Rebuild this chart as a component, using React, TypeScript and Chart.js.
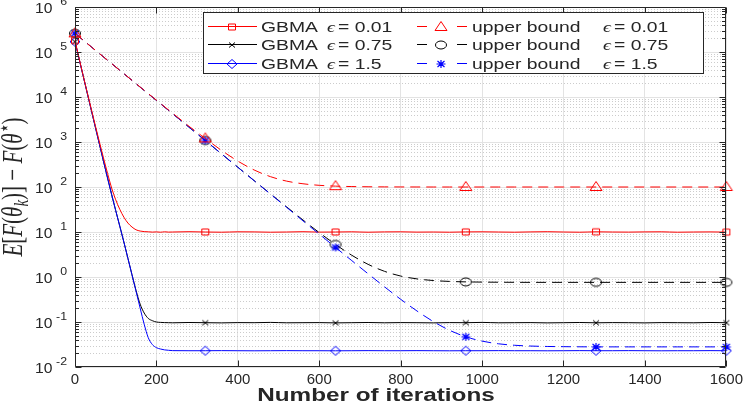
import React, { useEffect, useRef } from 'react';
import { Chart, registerables } from 'chart.js';

Chart.register(...registerables);

// iterations that carry a marker (MATLAB put one every 320 iterations)
const markerIters = [0, 320, 640, 960, 1280, 1600];

// GBMA curves
const gbmaIters = [
  0, 20, 40, 60, 80, 90, 100, 110, 120, 130, 140, 150, 160, 170, 180, 190, 200, 210, 220, 230,
  240, 280, 320, 360, 400, 440, 480, 520, 560, 600, 640, 680, 720, 760, 800, 840, 880, 920,
  960, 1000, 1040, 1080, 1120, 1160, 1200, 1240, 1280, 1320, 1360, 1400, 1440, 1480, 1520,
  1560, 1600,
];
const gbmaRed = [
  1.8e5, 3.0e4, 5.4e3, 1.0e3, 200, 95, 52, 32, 21.4, 15.8, 12.9, 11.2, 10.5, 10.2, 10.1, 9.95,
  10.05, 9.9, 10.1, 9.95,
  10.0, 10.15, 10.0, 9.9, 10.1, 10.05, 9.9, 10.0, 10.15, 9.95, 10.0, 10.1, 9.9, 10.05, 10.1,
  9.95, 10.0, 9.9, 10.05, 10.1, 10.0, 9.9, 10.05, 10.15, 10.0, 9.9, 10.1, 10.0, 9.95, 10.05,
  10.1, 9.9, 10.0, 10.05, 9.95,
];
const gbmaBlack = [
  1.7e5, 2.95e4, 5.1e3, 890, 158, 68, 30, 13.5, 6.0, 2.6, 1.12, 0.5, 0.25, 0.158, 0.12, 0.107,
  0.1, 0.098, 0.097, 0.0965,
  0.096, 0.0975, 0.0965, 0.0955, 0.097, 0.0965, 0.098, 0.096, 0.0965, 0.097, 0.0955, 0.0965,
  0.0975, 0.096, 0.097, 0.0965, 0.0955, 0.097, 0.0965, 0.098, 0.096, 0.0965, 0.097, 0.0955,
  0.0965, 0.0975, 0.096, 0.097, 0.0965, 0.0955, 0.097, 0.0965, 0.096, 0.0975, 0.0965,
];
const gbmaBlue = [
  1.7e5, 2.95e4, 5.1e3, 890, 158, 68, 30, 13.5, 6.0, 2.6, 1.12, 0.48, 0.204, 0.089, 0.0447,
  0.0316, 0.0269, 0.0251, 0.024, 0.0235,
  0.0231, 0.023, 0.023, 0.0231, 0.023, 0.0229, 0.023, 0.0231, 0.023, 0.023, 0.0229, 0.023,
  0.0231, 0.023, 0.023, 0.0231, 0.023, 0.0229, 0.023, 0.023, 0.0231, 0.023, 0.023, 0.0229,
  0.023, 0.0231, 0.023, 0.023, 0.0231, 0.023, 0.0229, 0.023, 0.023, 0.0231, 0.023,
];

// upper bounds
const boundIters = [
  0, 40, 80, 120, 160, 200, 240, 280, 320, 360, 400, 440, 480, 520, 560, 600, 640, 680, 720,
  760, 800, 840, 880, 920, 960, 1000, 1040, 1080, 1120, 1160, 1200, 1240, 1280, 1320, 1360,
  1400, 1440, 1480, 1520, 1560, 1600,
];
const boundRed = [
  2.6e5, 1.3e5, 6.56e4, 3.31e4, 1.67e4, 8.5e3, 4.34e3, 2.24e3, 1.2e3, 650, 376, 239, 170, 135,
  118, 109, 104.5, 102.3, 101.2, 100.6, 100.3, 100.15,
  100, 100, 100, 100, 100, 100, 100, 100, 100, 100, 100, 100, 100, 100, 100, 100, 100, 100, 100,
];
const boundBlack = [
  2.6e5, 1.3e5, 6.55e4, 3.3e4, 1.66e4, 8.4e3, 4.24e3, 2.14e3, 1.08e3, 544, 275, 139, 70.6, 36.0,
  18.5, 9.7, 5.28, 3.04, 1.91, 1.34, 1.05, 0.908, 0.835, 0.798, 0.779, 0.77, 0.765, 0.762,
  0.76, 0.76, 0.76, 0.76, 0.76, 0.76, 0.76, 0.76, 0.76, 0.76, 0.76, 0.76, 0.76,
];
const boundBlue = [
  2.6e5, 1.3e5, 6.55e4, 3.3e4, 1.66e4, 8.4e3, 4.24e3, 2.14e3, 1.08e3, 543, 274, 138, 69.8, 35.2,
  17.7, 8.98, 4.55, 2.31, 1.18, 0.608, 0.32, 0.176, 0.1025, 0.0655, 0.0469, 0.0376, 0.0328,
  0.0304, 0.0292, 0.0286, 0.0283, 0.0281,
  0.028, 0.028, 0.028, 0.028, 0.028, 0.028, 0.028, 0.028, 0.028,
];

const epsLabels = ['0.01', '0.75', '1.5'];
const yDecades = [-2, -1, 0, 1, 2, 3, 4, 5, 6];

const SANS = "'Liberation Sans', Arial, Helvetica, sans-serif";
const SERIF = "'Liberation Serif', 'DejaVu Serif', serif";
const INK = '#262626';
const RED = '#ff0000';
const BLACK = '#000000';
const BLUE = '#0000ff';
// the original figure was saved wider than it was drawn, so text is stretched sideways
const STRETCH = 1.38;

type MarkerKind = 'square' | 'cross' | 'diamond' | 'triangle' | 'circle' | 'star';

function makeMarker(kind: MarkerKind, color: string): HTMLCanvasElement {
  const c = document.createElement('canvas');
  c.width = 16;
  c.height = 14;
  const g = c.getContext('2d')!;
  const cx = 8;
  const cy = 7;
  g.strokeStyle = color;
  g.lineWidth = kind === 'star' ? 1.2 : 1;
  g.beginPath();
  switch (kind) {
    case 'square':
      g.rect(cx - 3.5, cy - 3, 7, 6);
      break;
    case 'cross':
      g.moveTo(cx - 3, cy - 2.5);
      g.lineTo(cx + 3, cy + 2.5);
      g.moveTo(cx - 3, cy + 2.5);
      g.lineTo(cx + 3, cy - 2.5);
      break;
    case 'diamond':
      g.moveTo(cx, cy - 4.5);
      g.lineTo(cx + 5, cy);
      g.lineTo(cx, cy + 4.5);
      g.lineTo(cx - 5, cy);
      g.closePath();
      break;
    case 'triangle':
      g.moveTo(cx, cy - 5.5);
      g.lineTo(cx + 6, cy + 3.5);
      g.lineTo(cx - 6, cy + 3.5);
      g.closePath();
      break;
    case 'circle':
      g.ellipse(cx, cy, 5.5, 4, 0, 0, Math.PI * 2);
      break;
    case 'star':
      g.moveTo(cx - 4.5, cy);
      g.lineTo(cx + 4.5, cy);
      g.moveTo(cx, cy - 4);
      g.lineTo(cx, cy + 4);
      g.moveTo(cx - 3.5, cy - 3);
      g.lineTo(cx + 3.5, cy + 3);
      g.moveTo(cx - 3.5, cy + 3);
      g.lineTo(cx + 3.5, cy - 3);
      break;
  }
  g.stroke();
  return c;
}

const toPoints = (xs: number[], ys: number[]) => xs.map((x, i) => ({ x, y: ys[i] }));

function stretchedText(ctx: CanvasRenderingContext2D, text: string, x: number, y: number, sx: number) {
  ctx.save();
  ctx.translate(x, y);
  ctx.scale(sx, 1);
  ctx.fillText(text, 0, 0);
  ctx.restore();
}

function drawYTitle(ctx: CanvasRenderingContext2D, x: number, y: number) {
  const parts: [string, string, number][] = [
    ['E', `italic 21px ${SERIF}`, 0],
    ['[', `21px ${SERIF}`, 0],
    ['F', `italic 21px ${SERIF}`, 0],
    ['(', `21px ${SERIF}`, 0],
    ['θ', `italic 21px ${SERIF}`, 0],
    ['k', `italic 15px ${SERIF}`, 4],
    [')', `21px ${SERIF}`, 0],
    [']', `21px ${SERIF}`, 0],
    [' − ', `21px ${SERIF}`, 0],
    ['F', `italic 21px ${SERIF}`, 0],
    ['(', `21px ${SERIF}`, 0],
    ['θ', `italic 21px ${SERIF}`, 0],
    ['⋆', `15px ${SERIF}`, -8],
    [')', `21px ${SERIF}`, 0],
  ];
  let total = 0;
  for (const [t, f] of parts) {
    ctx.font = f;
    total += ctx.measureText(t).width;
  }
  ctx.save();
  ctx.translate(x, y);
  ctx.rotate(-Math.PI / 2);
  ctx.scale(1, STRETCH);
  ctx.textAlign = 'left';
  ctx.textBaseline = 'alphabetic';
  let pos = -total / 2;
  for (const [t, f, dy] of parts) {
    ctx.font = f;
    ctx.fillText(t, pos, dy);
    pos += ctx.measureText(t).width;
  }
  ctx.restore();
}

const App: React.FC = () => {
  const canvasRef = useRef<HTMLCanvasElement>(null);
  const chartRef = useRef<Chart | null>(null);

  useEffect(() => {
    if (!canvasRef.current) return;
    if (chartRef.current) chartRef.current.destroy();

    const markers = {
      square: makeMarker('square', RED),
      cross: makeMarker('cross', BLACK),
      diamond: makeMarker('diamond', BLUE),
      triangle: makeMarker('triangle', RED),
      circle: makeMarker('circle', BLACK),
      star: makeMarker('star', BLUE),
    };

    const lineSet = (
      label: string,
      xs: number[],
      ys: number[],
      color: string,
      dashed: boolean,
      marker: HTMLCanvasElement,
      order: number
    ) => ({
      label,
      data: toPoints(xs, ys),
      borderColor: color,
      borderWidth: 1,
      borderDash: dashed ? [10, 6] : [],
      pointStyle: marker,
      pointRadius: (c: any) => (c.raw && markerIters.includes(c.raw.x) ? 4 : 0),
      pointHoverRadius: 0,
      fill: false,
      cubicInterpolationMode: 'monotone' as const,
      clip: false as const,
      order,
    });

    // legend rows: [gbma marker, bound marker, colour]
    const legendRows: [HTMLCanvasElement, HTMLCanvasElement, string][] = [
      [markers.square, markers.triangle, RED],
      [markers.cross, markers.circle, BLACK],
      [markers.diamond, markers.star, BLUE],
    ];

    const matlabLook = {
      id: 'matlabLook',
      beforeDatasetsDraw(chart: any) {
        const { ctx, chartArea: a, scales } = chart;
        ctx.save();
        ctx.strokeStyle = '#cccccc';
        ctx.lineWidth = 1;
        ctx.setLineDash([1, 2]);
        for (const n of yDecades.slice(0, -1)) {
          for (let k = 2; k <= 9; k++) {
            const py = Math.round(scales.y.getPixelForValue(k * 10 ** n)) + 0.5;
            ctx.beginPath();
            ctx.moveTo(a.left, py);
            ctx.lineTo(a.right, py);
            ctx.stroke();
          }
        }
        ctx.restore();
      },
      afterDatasetsDraw(chart: any) {
        const { ctx, chartArea: a, scales } = chart;
        const L = Math.round(a.left) + 0.5;
        const R = Math.round(a.right) - 0.5;
        const T = Math.round(a.top) + 0.5;
        const B = Math.round(a.bottom) - 0.5;
        ctx.save();
        ctx.strokeStyle = INK;
        ctx.lineWidth = 1;
        ctx.setLineDash([]);
        ctx.beginPath();
        ctx.rect(L, T, R - L, B - T);
        // y ticks, both sides, pointing in
        for (const n of yDecades) {
          const py = Math.round(scales.y.getPixelForValue(10 ** n)) + 0.5;
          ctx.moveTo(L, py);
          ctx.lineTo(L + 6, py);
          ctx.moveTo(R, py);
          ctx.lineTo(R - 6, py);
          if (n === 6) continue;
          for (let k = 2; k <= 9; k++) {
            const pm = Math.round(scales.y.getPixelForValue(k * 10 ** n)) + 0.5;
            ctx.moveTo(L, pm);
            ctx.lineTo(L + 3.5, pm);
            ctx.moveTo(R, pm);
            ctx.lineTo(R - 3.5, pm);
          }
        }
        // x ticks top and bottom
        for (const t of scales.x.ticks) {
          const px = Math.round(scales.x.getPixelForValue(t.value)) + 0.5;
          ctx.moveTo(px, B);
          ctx.lineTo(px, B - 6);
          ctx.moveTo(px, T);
          ctx.lineTo(px, T + 6);
        }
        ctx.stroke();
        ctx.restore();
      },
      afterDraw(chart: any) {
        const { ctx, scales } = chart;
        ctx.save();
        ctx.fillStyle = INK;
        // y tick labels 10^n
        for (const n of yDecades) {
          const py = scales.y.getPixelForValue(10 ** n);
          ctx.textBaseline = 'middle';
          ctx.font = `14px ${SANS}`;
          ctx.textAlign = 'left';
          stretchedText(ctx, '10', 35, py + 2, 1.12);
          ctx.font = `11px ${SANS}`;
          ctx.textAlign = 'right';
          stretchedText(ctx, n < 0 ? '-' + -n : String(n), 67, py - 5, 1.12);
        }

        // axis titles
        ctx.font = `bold 18px ${SANS}`;
        ctx.textAlign = 'center';
        ctx.textBaseline = 'alphabetic';
        stretchedText(ctx, 'Number of iterations', 376, 401, 1.35);
        drawYTitle(ctx, 22, 187);

        // legend box
        ctx.fillStyle = '#ffffff';
        ctx.fillRect(203, 12, 501, 62);
        ctx.strokeStyle = INK;
        ctx.lineWidth = 1;
        ctx.strokeRect(203.5, 12.5, 500, 61);

        legendRows.forEach(([gm, bm, color], i) => {
          const ly = Math.round(25.5 + i * 18.8) + 0.5;
          ctx.strokeStyle = color;
          ctx.setLineDash([]);
          ctx.beginPath();
          ctx.moveTo(208, ly);
          ctx.lineTo(257, ly);
          ctx.moveTo(417, ly);
          ctx.lineTo(427, ly);
          ctx.moveTo(457, ly);
          ctx.lineTo(467, ly);
          ctx.stroke();
          ctx.drawImage(gm, Math.round(232 - gm.width / 2), Math.round(ly - gm.height / 2));
          ctx.drawImage(bm, Math.round(441 - bm.width / 2), Math.round(ly - bm.height / 2));

          const base = ly + 5;
          ctx.fillStyle = INK;
          ctx.textAlign = 'left';
          ctx.textBaseline = 'alphabetic';
          ctx.font = `14px ${SANS}`;
          stretchedText(ctx, 'GBMA', 261, base, STRETCH);
          stretchedText(ctx, 'upper bound', 472, base, STRETCH);
          for (const ex of [327, 603]) {
            ctx.font = `italic 14px ${SERIF}`;
            stretchedText(ctx, 'ϵ', ex, base, STRETCH);
            ctx.font = `14px ${SANS}`;
            stretchedText(ctx, '= ' + epsLabels[i], ex + 11, base, STRETCH);
          }
        });
        ctx.restore();
      },
    };

    chartRef.current = new Chart(canvasRef.current, {
      type: 'line',
      data: {
        datasets: [
          lineSet('GBMA ϵ = 0.01', gbmaIters, gbmaRed, RED, false, markers.square, 3),
          lineSet('GBMA ϵ = 0.75', gbmaIters, gbmaBlack, BLACK, false, markers.cross, 5),
          lineSet('GBMA ϵ = 1.5', gbmaIters, gbmaBlue, BLUE, false, markers.diamond, 4),
          lineSet('upper bound ϵ = 0.01', boundIters, boundRed, RED, true, markers.triangle, 0),
          lineSet('upper bound ϵ = 0.75', boundIters, boundBlack, BLACK, true, markers.circle, 2),
          lineSet('upper bound ϵ = 1.5', boundIters, boundBlue, BLUE, true, markers.star, 1),
        ] as any,
      },
      options: {
        animation: false,
        responsive: false,
        events: [],
        layout: { padding: { top: 7, right: 20, left: 0, bottom: 0 } },
        plugins: {
          legend: { display: false },
          tooltip: { enabled: false },
        },
        scales: {
          x: {
            type: 'linear',
            min: 0,
            max: 1600,
            ticks: {
              stepSize: 200,
              color: INK,
              padding: 4,
              maxRotation: 0,
              font: { family: SANS, size: 15 },
              callback: (v: any) => String(v),
            },
            grid: { color: '#e3e3e3', drawTicks: false },
            border: { display: false },
            afterFit: (s: any) => {
              s.height = 40;
            },
          },
          y: {
            type: 'logarithmic',
            min: 1e-2,
            max: 1e6,
            ticks: { display: false },
            grid: { color: '#e3e3e3', drawTicks: false },
            border: { display: false },
            afterBuildTicks: (s: any) => {
              s.ticks = yDecades.map((n) => ({ value: 10 ** n }));
            },
            afterFit: (s: any) => {
              s.width = 75;
            },
          },
        },
      },
      plugins: [matlabLook],
    });

    return () => {
      if (chartRef.current) {
        chartRef.current.destroy();
        chartRef.current = null;
      }
    };
  }, []);

  return (
    <div style={{ position: 'absolute', left: 0, top: 0, width: 747, height: 407, background: '#fff' }}>
      <canvas ref={canvasRef} width={747} height={407} style={{ display: 'block' }} />
    </div>
  );
};

export default App;
